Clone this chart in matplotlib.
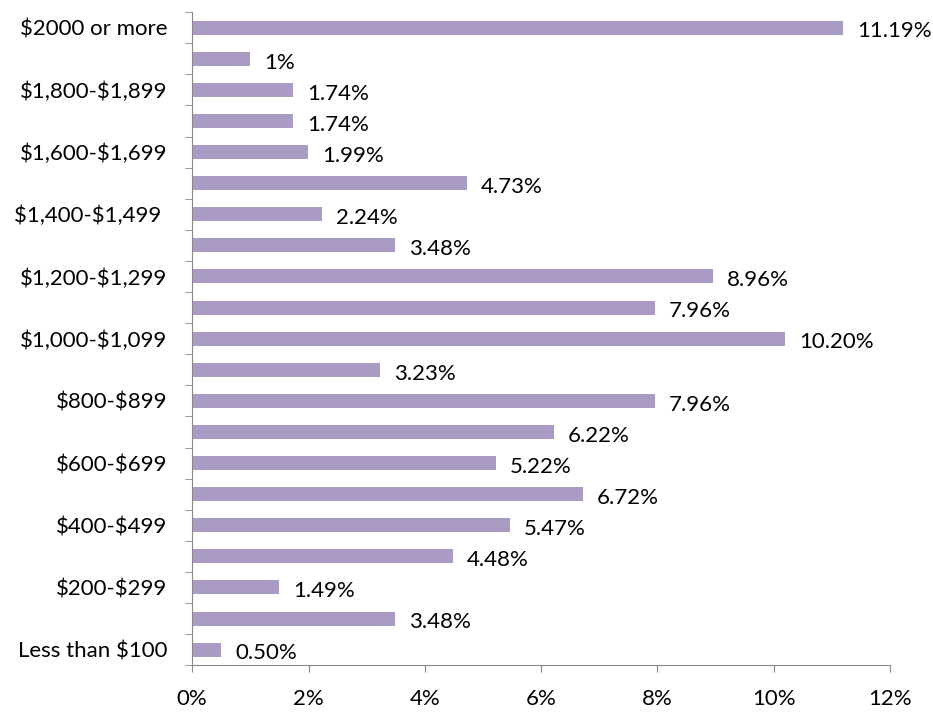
import matplotlib
matplotlib.use("Agg")
from matplotlib import pyplot as plt
import numpy as np

plt.rcParams['font.family'] = ['Lato', 'DejaVu Sans']
plt.rcParams['text.parse_math'] = False

categories = ["Less than $100", "$100-$199", "$200-$299", "$300-$399", "$400-$499",
              "$500-$599", "$600-$699", "$700-$799", "$800-$899", "$900-$999",
              "$1,000-$1,099", "$1,100-$1,199", "$1,200-$1,299", "$1,300-$1,399",
              "$1,400-$1,499 ", "$1,500-$1,599", "$1,600-$1,699", "$1,700-$1,799",
              "$1,800-$1,899", "$1,900-$1,999", "$2000 or more"]
values = [0.50, 3.48, 1.49, 4.48, 5.47, 6.72, 5.22, 6.22, 7.96, 3.23,
          10.20, 7.96, 8.96, 3.48, 2.24, 4.73, 1.99, 1.74, 1.74, 1.00, 11.19]
value_labels = ["0.50%", "3.48%", "1.49%", "4.48%", "5.47%", "6.72%", "5.22%",
                "6.22%", "7.96%", "3.23%", "10.20%", "7.96%", "8.96%", "3.48%",
                "2.24%", "4.73%", "1.99%", "1.74%", "1.74%", "1%", "11.19%"]
xticks = [0, 2, 4, 6, 8, 10, 12]

fig = plt.figure(figsize=(9.33, 7.13), dpi=100)
ax = fig.add_axes([0.206, 0.067, 0.748, 0.916])

ypos = np.arange(len(categories))
ax.barh(ypos, values, height=0.45, color="#A99BC3")
for y, v, lab in zip(ypos, values, value_labels):
    ax.text(v + 0.24, y - 0.12, lab, va="center", ha="left", fontsize=16)

ax.set_xlim(0, 12)
ax.set_ylim(-0.5, len(categories) - 0.5)
ax.set_xticks(xticks)
ax.set_xticklabels([f"{t}%" for t in xticks], fontsize=16)
ax.set_yticks(ypos[::2])
ax.set_yticklabels(categories[::2], fontsize=16)
ax.set_yticks(np.arange(-0.5, len(categories) + 0.5, 1), minor=True)
ax.tick_params(axis="y", which="major", length=0, pad=18)
ax.tick_params(axis="y", which="minor", length=5, color="#888888", direction="out")
ax.tick_params(axis="x", length=5, color="#888888", direction="out", pad=12)

for s in ["top", "right"]:
    ax.spines[s].set_visible(False)
for s in ["left", "bottom"]:
    ax.spines[s].set_color("#888888")

fig.savefig("out.png", dpi=100)
